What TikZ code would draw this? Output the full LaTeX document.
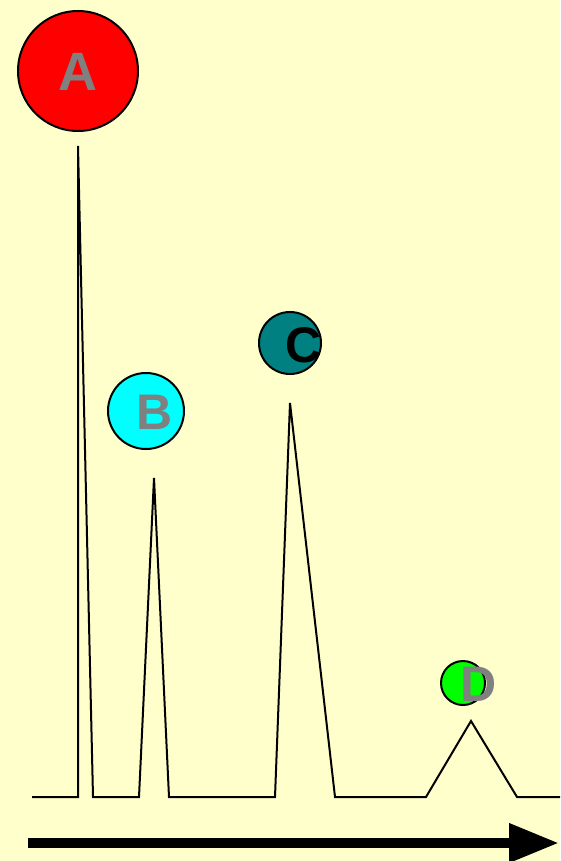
\documentclass[tikz,border=0pt]{standalone}
\usepackage{fontspec}
\setmainfont{Liberation Sans}
\usetikzlibrary{arrows.meta}
\definecolor{bgyellow}{RGB}{255,255,204}
\definecolor{tealball}{RGB}{0,128,128}
\definecolor{cyanball}{RGB}{0,255,255}
\definecolor{greenball}{RGB}{0,255,0}
\definecolor{redball}{RGB}{255,0,0}
\definecolor{labelgray}{RGB}{128,128,128}
\tikzset{
  ball/.style={circle, draw=black, line width=2pt, inner sep=0pt},
  lbl/.style={inner sep=0pt, font=\fontsize{50}{50}\selectfont\bfseries},
  trace/.style={draw=black, line width=2pt, line join=miter},
}
\begin{document}
\begin{tikzpicture}[x=1pt,y=-1pt]
\fill[bgyellow] (0,0) rectangle (560,861);
\useasboundingbox (0,0) rectangle (560,861);
% circles
\node[ball, fill=redball, minimum size=120pt] (A) at (78,71) {};
\node[lbl, text=labelgray, font=\fontsize{54}{54}\selectfont\bfseries] (Alab) at (78,72) {A};
\node[ball, fill=cyanball, minimum size=76pt] (B) at (146,411) {};
\node[lbl, text=labelgray] (Blab) at (155,412) {B};
\node[ball, fill=tealball, minimum size=62pt] (C) at (290,343) {};
\node[lbl, text=black] (Clab) at (304,345) {C};
\node[ball, fill=greenball, minimum size=44pt] (D) at (463,683) {};
\node[lbl, text=labelgray] (Dlab) at (479,684) {D};
% chromatogram trace
\coordinate (s) at (32,797);
\coordinate (a0) at (78,797);
\coordinate (ap) at (78,146);
\coordinate (a1) at (93,797);
\coordinate (b0) at (139,797);
\coordinate (bp) at (154,478);
\coordinate (b1) at (169,797);
\coordinate (c0) at (275,797);
\coordinate (cp) at (290,403);
\coordinate (c1) at (335,797);
\coordinate (d0) at (426,797);
\coordinate (dp) at (471,721);
\coordinate (d1) at (517,797);
\coordinate (e) at (560,797);
\draw[trace] (s) -- (a0) -- (ap) -- (a1) -- (b0) -- (bp) -- (b1) -- (c0) -- (cp) -- (c1) -- (d0) -- (dp) -- (d1) -- (e);
% time arrow
\coordinate (t0) at (28,843);
\coordinate (t1) at (559,843);
\draw[line width=10pt, -{Triangle[length=50pt, width=37pt]}] (t0) -- (t1);
\end{tikzpicture}
\end{document}
